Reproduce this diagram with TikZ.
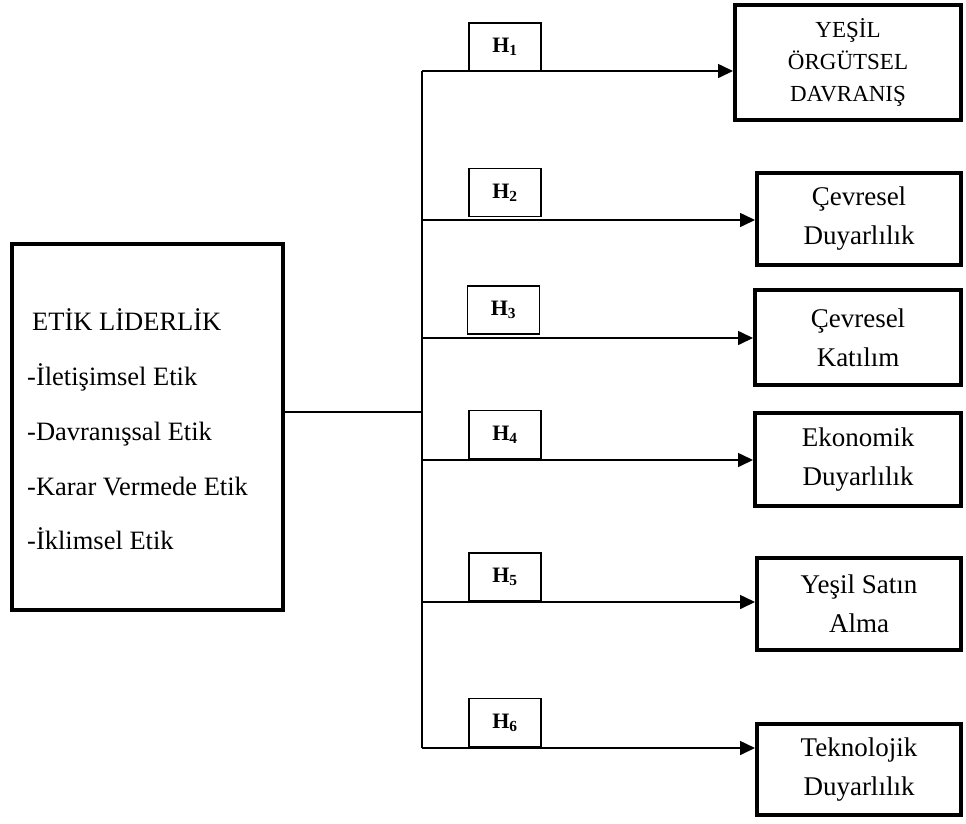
\documentclass[tikz,border=0pt]{standalone}
\usepackage{fontspec}
\setmainfont{Liberation Serif}
\usetikzlibrary{arrows.meta}
\tikzset{
  thickbox/.style={draw=black, line width=4pt, fill=white, inner sep=0pt, align=center,
    font=\fontsize{27}{39}\selectfont},
  hbox/.style={draw=black, line width=1.5pt, fill=white, inner sep=0pt,
    minimum width=72pt, minimum height=48pt, font=\fontsize{22}{24}\selectfont\bfseries},
  conn/.style={draw=black, line width=1.6pt},
  arr/.style={conn, -{Triangle[length=15pt,width=14pt]}},
  ltext/.style={anchor=base west, inner sep=0pt, font=\fontsize{26.5}{30}\selectfont}
}
\begin{document}
\begin{tikzpicture}[x=1pt,y=-1pt]
\useasboundingbox (0,0) rectangle (966,823);
% left box
\node[thickbox, minimum width=271pt, minimum height=366pt] (lb) at (147.5,427) {};
\node[ltext] (l1) at (32,330) {ETİK LİDERLİK};
\node[ltext] (l2) at (27,385) {-İletişimsel Etik};
\node[ltext] (l3) at (27,440) {-Davranışsal Etik};
\node[ltext] (l4) at (27,495) {-Karar Vermede Etik};
\node[ltext] (l5) at (27,549) {-İklimsel Etik};
% target boxes
\node[thickbox, minimum width=226pt, minimum height=115pt, font=\fontsize{23}{32}\selectfont] (t1) at (848,62.5) {YEŞİL\\ÖRGÜTSEL\\DAVRANIŞ};
\node[thickbox, minimum width=204pt, minimum height=92pt] (t2) at (859,219) {Çevresel\\Duyarlılık};
\node[thickbox, minimum width=206pt, minimum height=95pt] (t3) at (858,337.5) {Çevresel\\Katılım};
\node[thickbox, minimum width=206pt, minimum height=93pt] (t4) at (858,459.5) {Ekonomik\\Duyarlılık};
\node[thickbox, minimum width=204pt, minimum height=92pt] (t5) at (859,604) {Yeşil Satın\\Alma};
\node[thickbox, minimum width=204pt, minimum height=91pt] (t6) at (859,769.5) {Teknolojik\\Duyarlılık};
% junction coordinates
\coordinate (j1) at (422,71);
\coordinate (j2) at (422,220);
\coordinate (j3) at (422,338);
\coordinate (j4) at (422,460);
\coordinate (j5) at (422,602);
\coordinate (j6) at (422,748);
\coordinate (jm) at (422,412);
% trunk
\draw[conn] (lb.east |- jm) -- (jm);
\draw[conn] (j1) -- (j6);
% branches
\draw[arr] (j1) -- (t1.west |- j1);
\draw[arr] (j2) -- (t2.west |- j2);
\draw[arr] (j3) -- (t3.west |- j3);
\draw[arr] (j4) -- (t4.west |- j4);
\draw[arr] (j5) -- (t5.west |- j5);
\draw[arr] (j6) -- (t6.west |- j6);
% hypothesis labels
\node[hbox] (h1) at (505,47) {H\textsubscript{1}};
\node[hbox] (h2) at (505,192.5) {H\textsubscript{2}};
\node[hbox] (h3) at (503.5,310) {H\textsubscript{3}};
\node[hbox] (h4) at (505,434.5) {H\textsubscript{4}};
\node[hbox] (h5) at (505,577) {H\textsubscript{5}};
\node[hbox] (h6) at (505,722.5) {H\textsubscript{6}};
\end{tikzpicture}
\end{document}
